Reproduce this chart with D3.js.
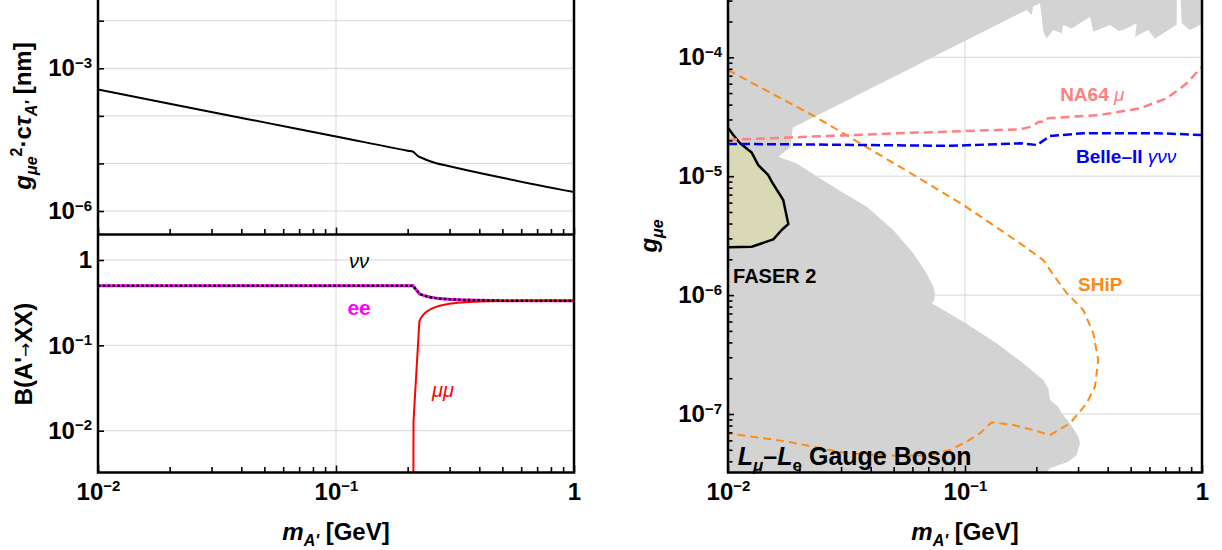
<!DOCTYPE html>
<html><head><meta charset="utf-8">
<script src="https://cdn.jsdelivr.net/npm/d3@7"></script>
<style>body{margin:0;background:#fff}svg{display:block}</style>
</head><body><svg id="c" width="1222" height="550"></svg>
<script>
// ---------------- data ----------------
const xTickExps = [-2, -1, 0];
// top-left: lifetime g^2 c tau [nm]
const lifetimeMass  = [0.01, 0.02, 0.05, 0.1, 0.2, 0.211, 0.215, 0.22, 0.23, 0.25, 0.3, 0.5, 1];
const lifetimeValue = [3.6e-4, 1.8e-4, 7.3e-5, 3.7e-5, 1.85e-5, 1.76e-5, 1.62e-5, 1.45e-5, 1.30e-5, 1.10e-5, 8.7e-6, 5.0e-6, 2.5e-6];
const lifetimeTickExps = [-2, -3, -4, -5, -6];
const lifetimeLabelExps = [-3, -6];
// bottom-left: branching ratios
const brMass   = [0.01, 0.211, 0.2117, 0.224, 0.227, 0.23, 0.235, 0.24, 0.25, 0.26, 0.27, 0.285, 0.3, 0.325, 0.35, 0.4, 0.5, 0.7, 1];
const brEE     = [0.5, 0.5, 0.49, 0.403, 0.396, 0.39, 0.382, 0.376, 0.367, 0.36, 0.355, 0.35, 0.346, 0.343, 0.34, 0.337, 0.334, 0.3336, 0.3334];
const brNuNu   = [0.5, 0.5, 0.49, 0.403, 0.396, 0.39, 0.382, 0.376, 0.367, 0.36, 0.355, 0.35, 0.346, 0.343, 0.34, 0.337, 0.334, 0.3336, 0.3334];
const muMass   = [0.2113, 0.2117, 0.224, 0.227, 0.23, 0.235, 0.24, 0.25, 0.26, 0.27, 0.285, 0.3, 0.325, 0.35, 0.4, 0.5, 0.7, 1];
const brMuMu   = [0.001, 0.013, 0.19, 0.207, 0.219, 0.235, 0.248, 0.266, 0.279, 0.289, 0.299, 0.307, 0.315, 0.32, 0.326, 0.33, 0.3328, 0.3332];
const brTickExps = [0, -1, -2];
// right: excluded region (gray) and projections, [mass GeV, g]
const excludedMain = [
  [0.009,4e-4],[0.782,4e-4],[0.782,1.87e-4],[0.757,1.81e-4],[0.687,1.59e-4],[0.633,1.44e-4],
  [0.593,1.70e-4],[0.522,1.49e-4],[0.530,1.93e-4],[0.465,1.70e-4],[0.443,1.67e-4],[0.409,1.87e-4],
  [0.348,1.64e-4],[0.337,2.19e-4],[0.282,1.75e-4],[0.260,1.87e-4],[0.256,1.59e-4],[0.236,1.70e-4],
  [0.221,1.44e-4],[0.214,1.64e-4],[0.211,2.18e-4],[0.207,2.83e-4],[0.194,2.67e-4],[0.191,2.27e-4],
  [0.182,2.50e-4],[0.01875,2.56e-5],[0.01839,1.77e-5],[0.0163,1.46e-5],[0.0195,1.28e-5],
  [0.0278,8.16e-6],[0.0385,5.54e-6],[0.0498,3.53e-6],[0.0605,2.25e-6],[0.0689,1.52e-6],
  [0.0735,1.18e-6],[0.0747,1.04e-6],[0.0743,9.1e-7],[0.0724,8.53e-7],[0.0984,5.97e-7],
  [0.136,3.93e-7],[0.176,2.67e-7],[0.214,1.93e-7],[0.2246,1.64e-7],[0.2284,1.31e-7],
  [0.2475,1.15e-7],[0.256,1.01e-7],[0.2773,8.35e-8],[0.3006,6.44e-8],[0.3055,5.67e-8],
  [0.296,4.52e-8],[0.273,3.97e-8],[0.2284,3.49e-8],[0.2,2.5e-8],[0.009,2.5e-8]
];
const excludedCorner = [[0.808,4e-4],[0.821,1.93e-4],[0.890,1.70e-4],[0.981,1.87e-4],[1.1,1.87e-4],[1.1,4e-4]];
const faser2 = [
  [0.009,2.53e-5],[0.01003,2.53e-5],[0.01053,2.22e-5],[0.01124,1.89e-5],[0.01259,1.58e-5],
  [0.01342,1.24e-5],[0.01479,1.02e-5],[0.01529,8.99e-6],[0.0171,6.31e-6],[0.01797,3.96e-6],
  [0.01685,3.53e-6],[0.01553,2.94e-6],[0.01259,2.55e-6],[0.01003,2.52e-6],[0.009,2.52e-6]
];
const ship = [
  [0.01,7.82e-5],[0.0233,3.17e-5],[0.0361,1.89e-5],[0.0625,9.9e-6],[0.0984,5.73e-6],[0.1706,2.73e-6],
  [0.214,1.97e-6],[0.236,1.48e-6],[0.2686,1.04e-6],[0.3156,7.5e-7],[0.3478,4.77e-7],[0.365,2.85e-7],
  [0.3535,1.70e-7],[0.326,1.23e-7],[0.2773,8.35e-8],[0.2284,6.65e-8],[0.194,7.33e-8],[0.16,8.08e-8],
  [0.1296,8.51e-8],[0.1157,6.88e-8],[0.1017,5.85e-8],[0.0864,4.98e-8],[0.0712,4.52e-8],
  [0.0532,4.43e-8],[0.0318,4.67e-8],[0.0179,5.85e-8],[0.01,6.88e-8]
];
const na64mu = [
  [0.01,2.02e-5],[0.0532,2.30e-5],[0.1706,2.48e-5],[0.191,2.61e-5],[0.205,2.87e-5],[0.2165,2.87e-5],
  [0.224,3.07e-5],[0.371,3.27e-5],[0.547,3.72e-5],[0.71,4.52e-5],[0.862,6.04e-5],[1.0,8.33e-5]
];
const belle2 = [
  [0.01,1.87e-5],[0.0382,1.83e-5],[0.0864,1.80e-5],[0.1706,1.89e-5],[0.2014,1.83e-5],
  [0.2284,2.18e-5],[0.3156,2.30e-5],[0.647,2.30e-5],[1.0,2.22e-5]
];
const gTickExps = [-4, -5, -6, -7];

// ---------------- helpers ----------------
const FONT = '"Liberation Sans", Arial, Helvetica, sans-serif';
const svg = d3.select('#c');
const GRID = '#d6d6d6';

function extendLog(scale, r0, r1) {
  return scale.copy().domain([scale.invert(r0), scale.invert(r1)]).range([r0, r1]);
}
function powLabel(sel, e) {
  sel.text(null);
  if (e === 0) { sel.text('1'); return; }
  sel.append('tspan').text('10');
  sel.append('tspan').attr('dy', -8.5).attr('font-size', 15).text('\u2212' + Math.abs(e));
}
function richText(parent, x, y, segs, o) {
  const t = parent.append('text').attr('x', x).attr('y', y)
    .attr('font-family', FONT).attr('font-size', o.size).attr('font-weight', o.weight || 'bold')
    .attr('fill', o.fill || '#000').attr('text-anchor', o.anchor || 'start');
  if (o.transform) t.attr('transform', o.transform);
  segs.forEach(s => {
    const ts = t.append('tspan').text(s.t);
    if (s.italic) ts.attr('font-style', 'italic');
    if (s.size) ts.attr('font-size', s.size);
    if (s.dy) ts.attr('dy', s.dy);
    if (s.weight) ts.attr('font-weight', s.weight);
    if (s.family) ts.attr('font-family', s.family);
  });
  return t;
}
function minorTicks(k0, k1) {
  const out = [];
  for (let k = k0; k <= k1; k++) for (let j = 2; j <= 9; j++) out.push(j * Math.pow(10, k));
  return out;
}
function styleAxis(g) {
  g.select('.domain').remove();
  g.attr('font-family', FONT).attr('font-size', 24).attr('font-weight', 'bold');
  g.selectAll('.tick line').attr('stroke', '#000').attr('stroke-width', 1.6);
  g.selectAll('.tick text').attr('fill', '#000');
}
function addClip(id, x, y, w, h) {
  svg.append('clipPath').attr('id', id).append('rect').attr('x', x).attr('y', y).attr('width', w).attr('height', h);
}

// ---------------- geometry ----------------
const LX0 = 98, LX1 = 574, RX0 = 728, RX1 = 1202, TOP = -10, MID = 234.5, BOT = 472.5;
const xL = d3.scaleLog().domain([0.01, 1]).range([LX0, LX1]);
const xR = d3.scaleLog().domain([0.01, 1]).range([RX0, RX1]);
const yTop = extendLog(d3.scaleLog().domain([1e-6, 1e-3]).range([211, 68.3]), MID, TOP);
const yBr  = extendLog(d3.scaleLog().domain([0.01, 1]).range([430.7, 260]), BOT, MID);
const yR   = extendLog(d3.scaleLog().domain([1e-7, 1e-4]).range([414, 57.3]), BOT, TOP);

addClip('clipTop', LX0, TOP, LX1 - LX0, MID - TOP);
addClip('clipBr', LX0, MID, LX1 - LX0, BOT - MID);
addClip('clipR', RX0, TOP, RX1 - RX0, BOT - TOP);

// ---------------- gridlines ----------------
function grid(xs, ys, xScale, yScale, x0, x1, y0, y1) {
  const g = svg.append('g').attr('stroke', GRID).attr('stroke-width', 1);
  ys.forEach(v => g.append('line').attr('x1', x0).attr('x2', x1).attr('y1', yScale(v)).attr('y2', yScale(v)));
  xs.forEach(v => g.append('line').attr('x1', xScale(v)).attr('x2', xScale(v)).attr('y1', y0).attr('y2', y1));
}
grid([0.1], lifetimeTickExps.map(e => Math.pow(10, e)), xL, yTop, LX0, LX1, TOP, MID);
grid([0.1], brTickExps.map(e => Math.pow(10, e)), xL, yBr, LX0, LX1, MID, BOT);
grid([0.1], gTickExps.map(e => Math.pow(10, e)), xR, yR, RX0, RX1, TOP, BOT);

// ---------------- top-left: lifetime ----------------
const lifeLine = d3.line().x(d => xL(d[0])).y(d => yTop(d[1])).curve(d3.curveMonotoneX);
svg.append('g').attr('clip-path', 'url(#clipTop)').append('path')
  .attr('d', lifeLine(d3.zip(lifetimeMass, lifetimeValue)))
  .attr('fill', 'none').attr('stroke', '#000').attr('stroke-width', 2);

// ---------------- bottom-left: branching ratios ----------------
const brLine = d3.line().x(d => xL(d[0])).y(d => yBr(d[1]));
const gBr = svg.append('g').attr('clip-path', 'url(#clipBr)');
gBr.append('path').attr('d', brLine(d3.zip(brMass, brEE))).attr('fill', 'none').attr('stroke', '#ff00ff').attr('stroke-width', 3);
gBr.append('path').attr('d', brLine(d3.zip(muMass, brMuMu))).attr('fill', 'none').attr('stroke', '#ff0000').attr('stroke-width', 2);
gBr.append('path').attr('d', brLine(d3.zip(brMass, brNuNu))).attr('fill', 'none').attr('stroke', '#000').attr('stroke-width', 2.5).attr('stroke-dasharray', '2.6,2.2');

// ---------------- right panel ----------------
const gLine = d3.line().x(d => xR(d[0])).y(d => yR(d[1]));
const gRc = svg.append('g').attr('clip-path', 'url(#clipR)');
gRc.append('path').attr('d', gLine(excludedMain) + 'Z').attr('fill', '#d3d3d3');
gRc.append('path').attr('d', gLine(excludedCorner) + 'Z').attr('fill', '#d3d3d3');
gRc.append('path').attr('d', gLine(faser2) + 'Z').attr('fill', '#d9d9b5').attr('stroke', '#000').attr('stroke-width', 2.5).attr('stroke-linejoin', 'round');
gRc.append('path').attr('d', gLine(ship)).attr('fill', 'none').attr('stroke', '#ff8a12').attr('stroke-width', 2).attr('stroke-dasharray', '8,5');
gRc.append('path').attr('d', gLine(na64mu)).attr('fill', 'none').attr('stroke', '#ff8080').attr('stroke-width', 2.5).attr('stroke-dasharray', '9,5');
gRc.append('path').attr('d', gLine(belle2)).attr('fill', 'none').attr('stroke', '#0000ff').attr('stroke-width', 2.5).attr('stroke-dasharray', '9,4');

// ---------------- axes ----------------
const xMajor = xTickExps.map(e => Math.pow(10, e));
const xMinor = minorTicks(-2, -1);
function xAxisAt(scale, y, labels) {
  const a = svg.append('g').attr('transform', `translate(0,${y})`)
    .call(d3.axisBottom(scale).tickValues(xMajor).tickSizeInner(-7).tickSizeOuter(0).tickPadding(10).tickFormat(() => ''));
  styleAxis(a);
  if (labels) a.selectAll('.tick text').each(function (d) { powLabel(d3.select(this), Math.round(Math.log10(d))); });
  const m = svg.append('g').attr('transform', `translate(0,${y})`)
    .call(d3.axisBottom(scale).tickValues(xMinor).tickSizeInner(-5.5).tickSizeOuter(0).tickFormat(() => ''));
  styleAxis(m);
}
xAxisAt(xL, MID, false);
xAxisAt(xL, BOT, true);
xAxisAt(xR, BOT, true);

function yAxisAt(scale, x, majors, labeled, minors) {
  const a = svg.append('g').attr('transform', `translate(${x},0)`)
    .call(d3.axisLeft(scale).tickValues(majors).tickSizeInner(-6).tickSizeOuter(0).tickPadding(6).tickFormat(() => ''));
  styleAxis(a);
  a.selectAll('.tick text').each(function (d) {
    const e = Math.round(Math.log10(d));
    if (labeled.includes(e)) powLabel(d3.select(this), e);
  });
  if (minors) {
    const m = svg.append('g').attr('transform', `translate(${x},0)`)
      .call(d3.axisLeft(scale).tickValues(minors).tickSizeInner(-4.5).tickSizeOuter(0).tickFormat(() => ''));
    styleAxis(m);
  }
}
yAxisAt(yTop, LX0, lifetimeTickExps.map(e => Math.pow(10, e)), lifetimeLabelExps, null);
yAxisAt(yBr, LX0, brTickExps.map(e => Math.pow(10, e)), brTickExps, null);
const gMinor = minorTicks(-8, -4).filter(v => yR(v) >= TOP && yR(v) <= BOT);
yAxisAt(yR, RX0, gTickExps.map(e => Math.pow(10, e)), gTickExps, gMinor);

// ---------------- frames ----------------
const fr = svg.append('g').attr('stroke', '#000').attr('stroke-width', 2.5).attr('fill', 'none');
fr.append('path').attr('d', `M${LX0},${TOP}V${BOT}H${LX1}V${TOP}`);
fr.append('path').attr('d', `M${LX0},${MID}H${LX1}`);
fr.append('path').attr('d', `M${RX0},${TOP}V${BOT}H${RX1}V${TOP}`);

// ---------------- text ----------------
// axis titles
richText(svg, 0, 0, [{t:'g',italic:1},{t:'\u03bce',italic:1,size:16,dy:6},{t:'2',size:16,dy:-15},{t:'\u00b7c',dy:9},{t:'\u03c4',italic:1},{t:"A'",italic:1,size:16,dy:6},{t:' [nm]',dy:-6}],
  {size:24, anchor:'middle', transform:'translate(31,116) rotate(-90)'});
richText(svg, 0, 0, [{t:"B(A'"},{t:'\u2192',family:'"DejaVu Sans", sans-serif',size:17,weight:'normal',dy:-1},{t:'XX)',dy:1}],
  {size:24, anchor:'middle', transform:'translate(32,354) rotate(-90)'});
richText(svg, 0, 0, [{t:'g',italic:1},{t:'\u03bce',italic:1,size:16,dy:6}], {size:24, anchor:'middle', transform:'translate(657,236) rotate(-90)'});
richText(svg, (LX0 + LX1) / 2, 540, [{t:'m',italic:1},{t:"A'",italic:1,size:16,dy:6},{t:' [GeV]',dy:-6}], {size:24, anchor:'middle'});
richText(svg, (RX0 + RX1) / 2, 540, [{t:'m',italic:1},{t:"A'",italic:1,size:16,dy:6},{t:' [GeV]',dy:-6}], {size:24, anchor:'middle'});

// curve labels (left)
richText(svg, xL(0.125), yBr(0.806), [{t:'\u03bd\u03bd',italic:1}], {size:20, weight:'normal', anchor:'middle'});
richText(svg, xL(0.125), yBr(0.227), [{t:'ee'}], {size:21, fill:'#ff00ff', anchor:'middle'});
richText(svg, xL(0.253), yBr(0.0248), [{t:'\u03bc\u03bc',italic:1}], {size:20, weight:'normal', fill:'#ff0000'});

// right labels
richText(svg, xR(0.252), yR(4.29e-5), [{t:'NA64 '},{t:'\u03bc',italic:1,weight:'normal'}], {size:19, fill:'#ff8080'});
richText(svg, xR(0.294), yR(1.29e-5), [{t:'Belle\u2013II '},{t:'\u03b3\u03bd\u03bd',italic:1,weight:'normal'}], {size:19, fill:'#0000ff'});
richText(svg, xR(0.2998), yR(1.08e-6), [{t:'SHiP'}], {size:19, fill:'#ff8a12'});
richText(svg, xR(0.0105), yR(1.26e-6), [{t:'FASER 2'}], {size:20});
richText(svg, xR(0.011), yR(3.72e-8), [{t:'L',italic:1},{t:'\u03bc',italic:1,size:17,dy:6},{t:'\u2013',dy:-6},{t:'L',italic:1},{t:'e',size:17,dy:6},{t:' Gauge Boson',dy:-6}], {size:25});
</script>
</body></html>
